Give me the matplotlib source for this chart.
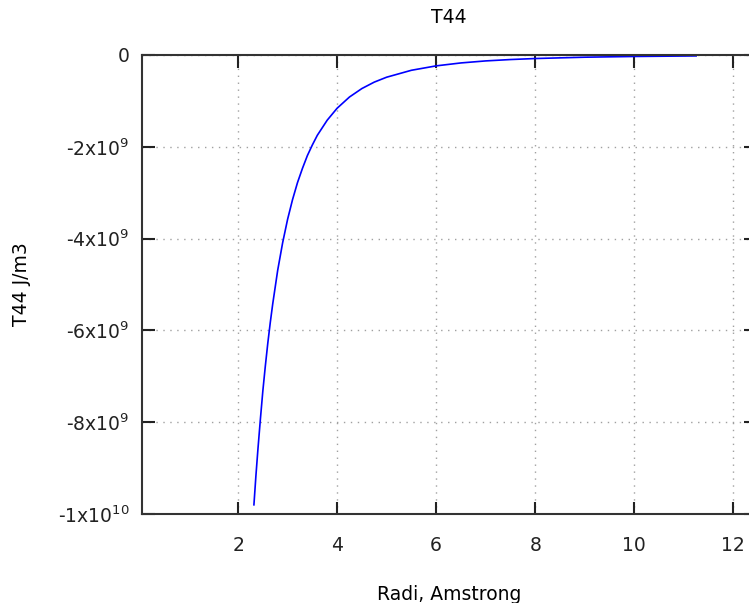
import matplotlib
matplotlib.use('Agg')
import matplotlib.pyplot as plt

# radius (Amstrong) and T44 (units of 1e9 J/m3)
radi = [2.32, 2.36, 2.40, 2.45, 2.50, 2.55, 2.60, 2.65, 2.70, 2.80, 2.90, 3.00,
        3.10, 3.20, 3.30, 3.40, 3.50, 3.60, 3.80, 4.00, 4.25, 4.50, 4.75, 5.00,
        5.50, 6.00, 6.50, 7.00, 7.50, 8.00, 9.00, 10.0, 11.25]
t44 = [-9.80, -9.17, -8.60, -7.94, -7.32, -6.78, -6.28, -5.83, -5.42, -4.69,
       -4.09, -3.58, -3.15, -2.78, -2.47, -2.19, -1.96, -1.75, -1.42, -1.16,
       -0.915, -0.731, -0.591, -0.484, -0.333, -0.237, -0.173, -0.129, -0.099,
       -0.077, -0.048, -0.032, -0.020]

xticks = [2, 4, 6, 8, 10, 12]
yticks = [0, -2e9, -4e9, -6e9, -8e9, -1e10]
ylabels = ['0', r'-2x10$^{9}$', r'-4x10$^{9}$', r'-6x10$^{9}$',
           r'-8x10$^{9}$', r'-1x10$^{10}$']

plt.rcParams['font.family'] = ['DejaVu Sans']
plt.rcParams['mathtext.default'] = 'regular'
fig = plt.figure(figsize=(7.49, 6.03), dpi=100)
ax = fig.add_axes([0.1896, 0.1476, 0.8198, 0.7612])

ax.plot(radi, [v * 1e9 for v in t44], color='#0000ff', lw=1.2)

ax.set_xlim(0.06, 12.46)
ax.set_ylim(-1e10, 0)
ax.set_xticks(xticks)
ax.set_xticklabels([str(t) for t in xticks])
ax.set_yticks(yticks)
ax.set_yticklabels(ylabels)

fs = 13.5
ax.grid(True, linestyle=(0, (1, 4)), color='#a0a0a0', lw=1.0)
ax.tick_params(direction='in', length=9, width=1.5, top=True, right=True,
               labelsize=fs, colors='#222222')
ax.tick_params(axis='x', pad=16)
ax.tick_params(axis='y', pad=9)
for s in ax.spines.values():
    s.set_linewidth(1.5)
    s.set_color('#333333')

ax.set_title('T44', fontsize=fs, pad=23)
ax.set_xlabel('Radi, Amstrong', fontsize=fs)
ax.set_ylabel('T44 J/m3', fontsize=fs)
ax.xaxis.set_label_coords(0.5, -0.155)
ax.yaxis.set_label_coords(-0.18, 0.5)

fig.savefig('out.png', dpi=100)
